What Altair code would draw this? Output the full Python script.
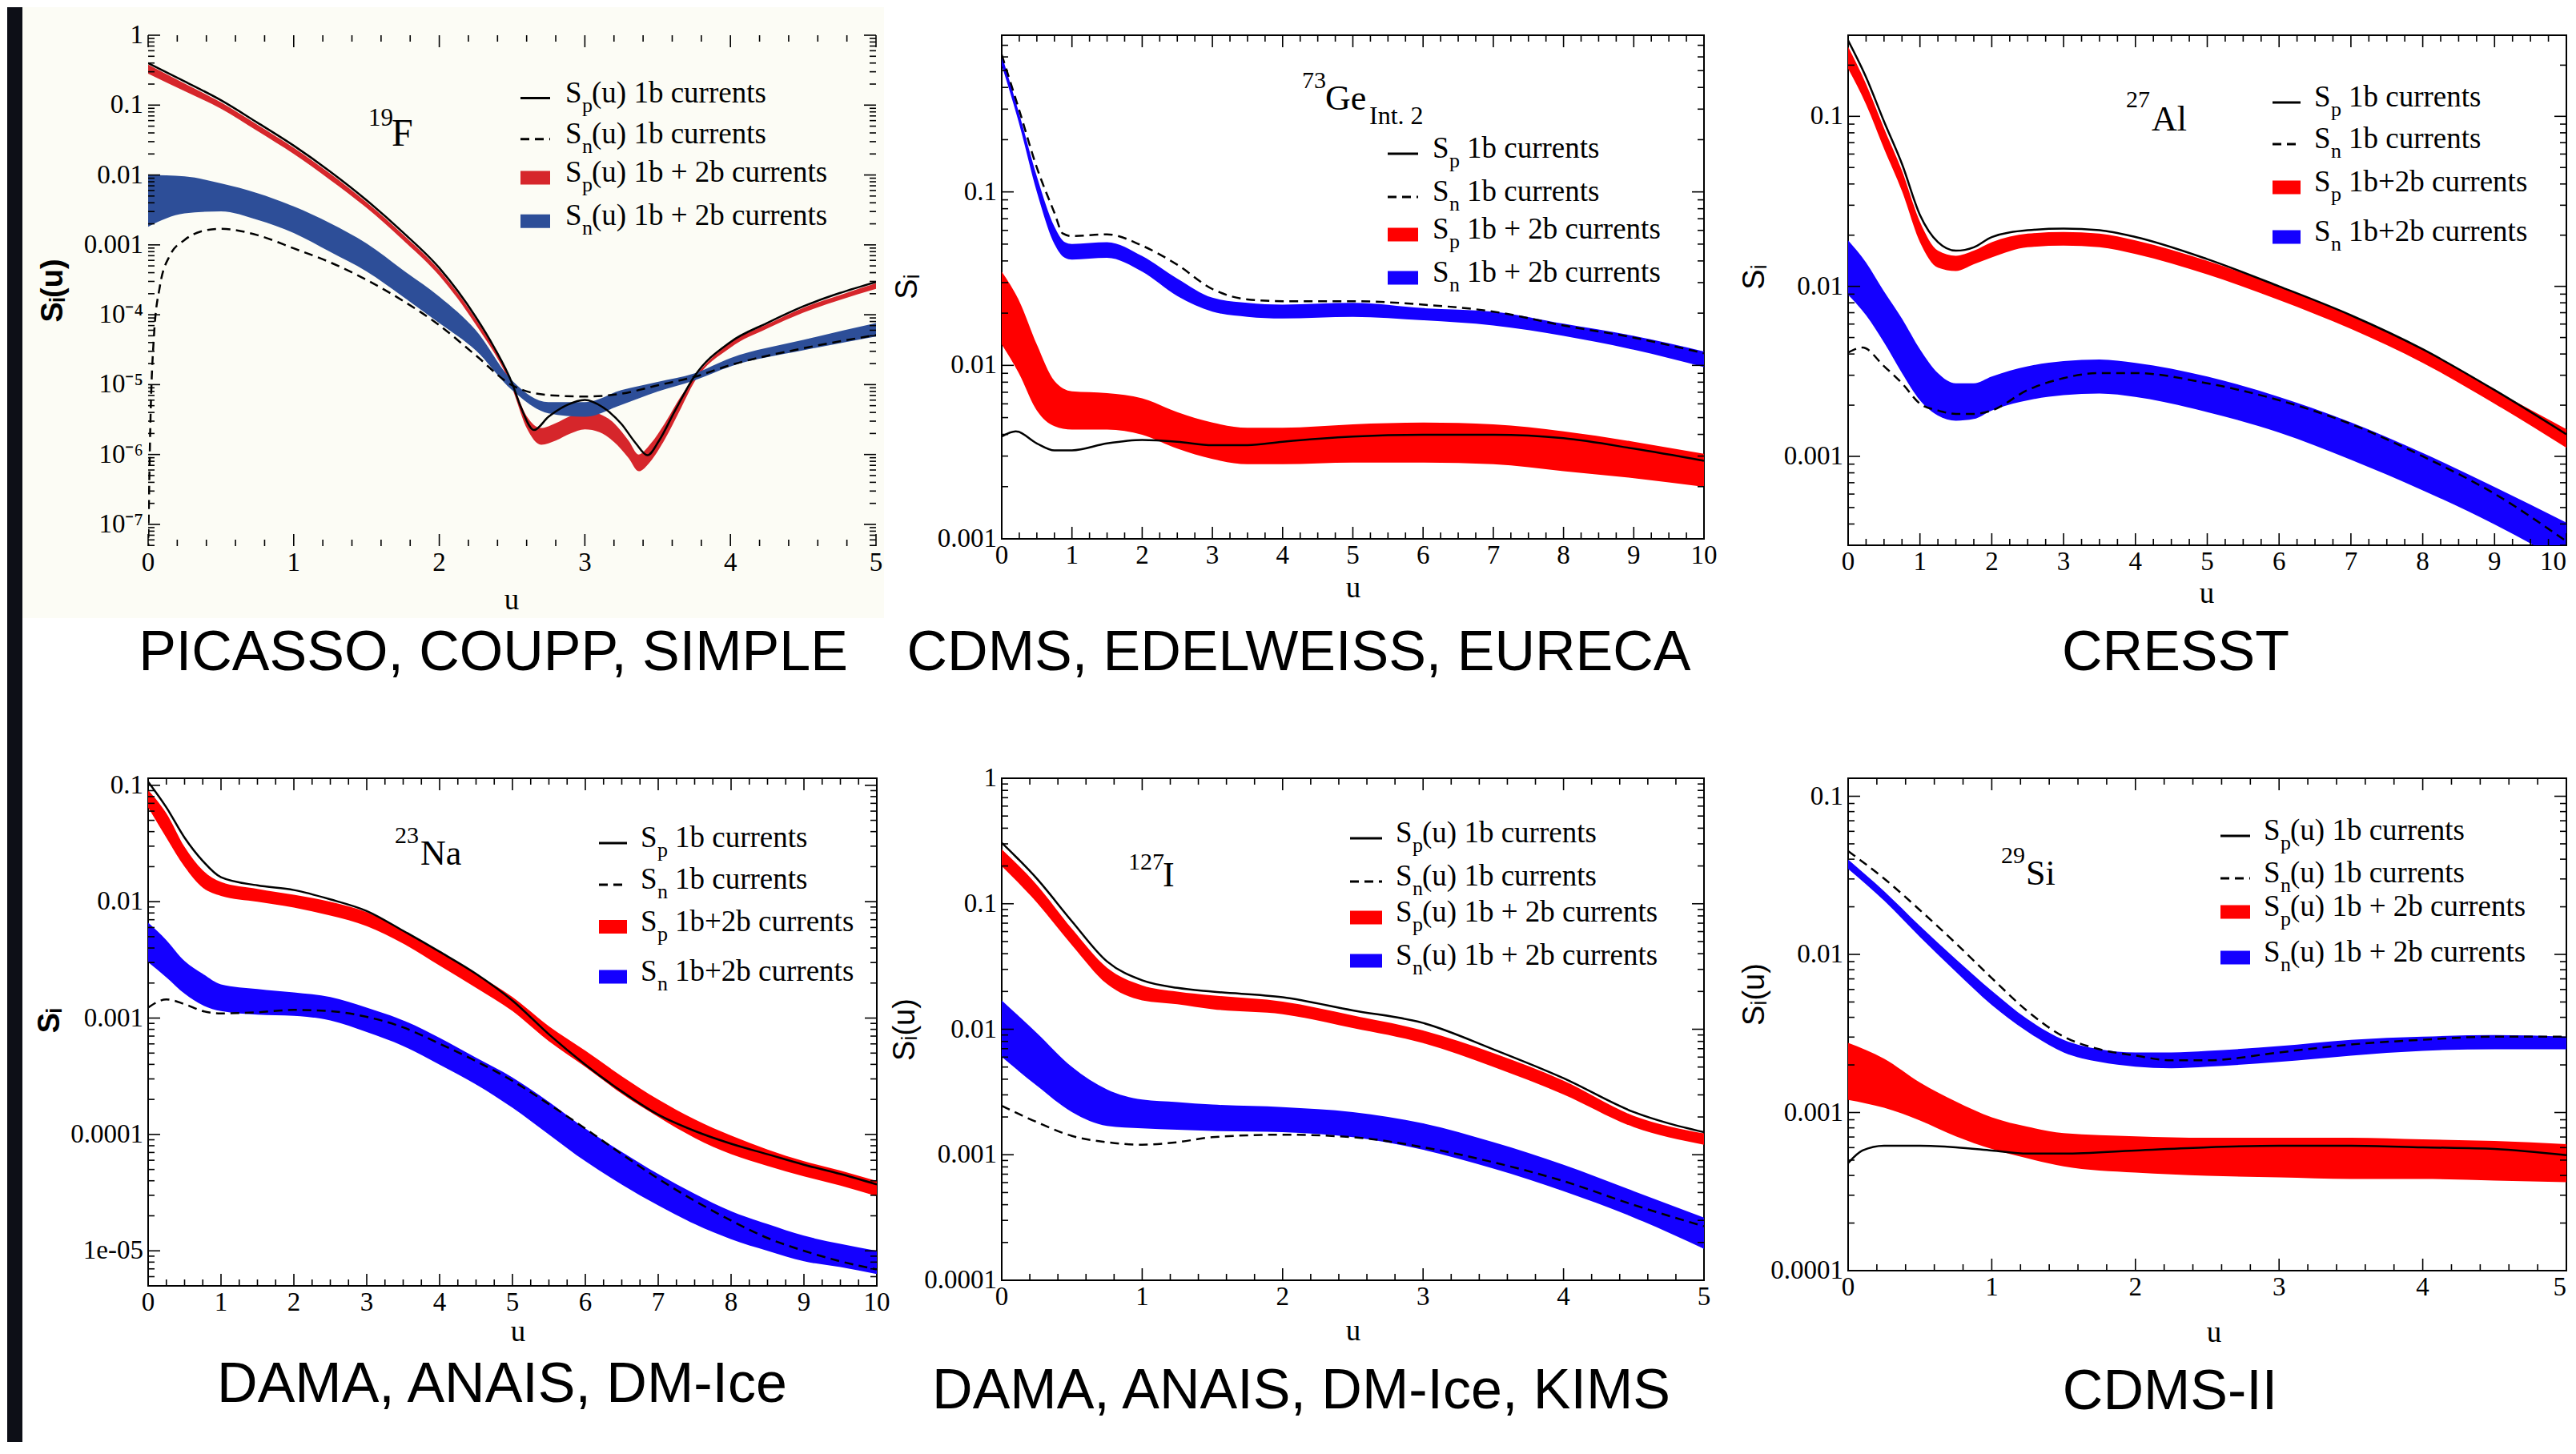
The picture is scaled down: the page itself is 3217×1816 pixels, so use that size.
import json
import altair as alt
import numpy as np
import pandas as pd

# ------------------------------------------------------------------
# Data.  Every S value below is given as log10(S).
# ------------------------------------------------------------------
# 19F  (PICASSO, COUPP, SIMPLE)
F19_SP1B_U = [0, 0.25, 0.5, 0.75, 1.0, 1.25, 1.5, 1.75, 2.0, 2.25, 2.375, 2.5, 2.56, 2.65, 2.75, 2.88, 3.0,
              3.12, 3.25, 3.35, 3.43, 3.51, 3.62, 3.75, 4.0, 4.25, 4.5, 4.75, 5.0]
F19_SP1B = [-0.40, -0.66, -0.93, -1.25, -1.58, -1.95, -2.36, -2.82, -3.33, -4.03, -4.46, -4.98, -5.32, -5.65,
            -5.46, -5.29, -5.22, -5.32, -5.56, -5.84, -6.01, -5.80, -5.37, -4.89, -4.39, -4.12, -3.88, -3.69, -3.53]
F19_SN1B_U = [0, 0.015, 0.04, 0.08, 0.15, 0.25, 0.36, 0.5, 0.75, 1.0, 1.25, 1.5, 1.75, 2.0, 2.25, 2.5, 2.75,
              3.0, 3.25, 3.5, 3.75, 4.0, 4.5, 5.0]
F19_SN1B = [-7.4, -5.6, -4.3, -3.6, -3.15, -2.93, -2.81, -2.77, -2.86, -3.05, -3.25, -3.50, -3.80, -4.15, -4.58,
            -5.01, -5.15, -5.17, -5.13, -5.01, -4.89, -4.72, -4.48, -4.29]
F19_SP_U = [0, 0.25, 0.5, 0.75, 1.0, 1.25, 1.5, 1.75, 2.0, 2.25, 2.5, 2.6, 2.7, 2.8, 2.9, 3.0, 3.1, 3.2, 3.3,
            3.37, 3.45, 3.55, 3.65, 3.75, 4.0, 4.25, 4.5, 4.75, 5.0]
F19_SP_HI = [-0.42, -0.69, -0.96, -1.28, -1.61, -1.98, -2.39, -2.85, -3.36, -4.06, -4.97, -5.45, -5.62, -5.55,
             -5.45, -5.38, -5.42, -5.55, -5.80, -6.00, -5.85, -5.55, -5.20, -4.90, -4.40, -4.14, -3.90, -3.72, -3.55]
F19_SP_LO = [-0.55, -0.80, -1.05, -1.37, -1.70, -2.07, -2.47, -2.93, -3.44, -4.14, -5.05, -5.62, -5.86, -5.80,
             -5.70, -5.64, -5.68, -5.82, -6.05, -6.24, -6.10, -5.78, -5.38, -4.97, -4.47, -4.20, -3.97, -3.79, -3.63]
F19_SN_U = [0, 0.25, 0.5, 0.75, 1.0, 1.25, 1.5, 1.75, 2.0, 2.25, 2.5, 2.75, 3.0, 3.25, 3.5, 3.75, 4.0, 4.5, 5.0]
F19_SN_HI = [-2.00, -2.02, -2.12, -2.26, -2.45, -2.69, -2.98, -3.36, -3.74, -4.22, -4.94, -5.25, -5.25, -5.08,
             -4.96, -4.84, -4.62, -4.36, -4.12]
F19_SN_LO = [-2.74, -2.55, -2.52, -2.64, -2.83, -3.10, -3.38, -3.74, -4.12, -4.51, -5.08, -5.41, -5.46, -5.29,
             -5.10, -4.94, -4.74, -4.51, -4.31]

# 73Ge  (CDMS, EDELWEISS, EURECA)
GE_SP1B_U = [0, 0.2, 0.5, 0.75, 1, 1.5, 2, 2.5, 3, 3.5, 4, 5, 6, 7, 8, 9, 10]
GE_SP1B = [-2.41, -2.38, -2.45, -2.49, -2.49, -2.45, -2.43, -2.44, -2.46, -2.46, -2.44, -2.41, -2.40, -2.40,
           -2.42, -2.48, -2.55]
GE_SN1B_U = [0, 0.25, 0.5, 0.75, 0.87, 1, 1.5, 2, 2.5, 3, 3.5, 4, 5, 6, 7, 8, 9, 10]
GE_SN1B = [-0.21, -0.53, -0.86, -1.12, -1.24, -1.255, -1.245, -1.31, -1.42, -1.56, -1.62, -1.63, -1.63, -1.65,
           -1.69, -1.77, -1.84, -1.93]
GE_SP_U = [0, 0.25, 0.5, 0.75, 1, 1.5, 2, 2.5, 3, 3.5, 4, 5, 6, 7, 8, 9, 10]
GE_SP_HI = [-1.46, -1.63, -1.88, -2.09, -2.15, -2.16, -2.19, -2.27, -2.33, -2.36, -2.36, -2.34, -2.33, -2.34,
            -2.38, -2.44, -2.51]
GE_SP_LO = [-1.88, -2.05, -2.26, -2.35, -2.37, -2.37, -2.40, -2.48, -2.54, -2.57, -2.57, -2.56, -2.56, -2.57,
            -2.61, -2.65, -2.70]
GE_SN_U = [0, 0.25, 0.5, 0.75, 0.9, 1, 1.5, 2, 2.5, 3, 3.5, 4, 5, 6, 7, 8, 9, 10]
GE_SN_HI = [-0.21, -0.55, -0.91, -1.20, -1.29, -1.30, -1.29, -1.37, -1.50, -1.61, -1.64, -1.65, -1.64, -1.67,
            -1.69, -1.76, -1.83, -1.92]
GE_SN_LO = [-0.27, -0.61, -1.00, -1.30, -1.38, -1.39, -1.38, -1.46, -1.60, -1.69, -1.72, -1.73, -1.72, -1.74,
            -1.77, -1.83, -1.91, -2.01]

# 27Al  (CRESST)
AL_U = [0, 0.25, 0.5, 0.75, 1, 1.25, 1.5, 1.75, 2, 2.5, 3, 3.5, 4, 5, 6, 7, 8, 9, 10]
AL_SP1B = [-0.554, -0.77, -1.03, -1.28, -1.58, -1.74, -1.79, -1.77, -1.71, -1.67, -1.66, -1.67, -1.71, -1.84,
           -2.00, -2.17, -2.37, -2.61, -2.87]
AL_SN1B_U = [0, 0.2, 0.5, 0.75, 1, 1.25, 1.5, 1.75, 2, 2.5, 3, 3.5, 4, 5, 6, 7, 8, 9, 10]
AL_SN1B = [-2.39, -2.36, -2.47, -2.57, -2.69, -2.73, -2.75, -2.75, -2.73, -2.61, -2.54, -2.51, -2.51, -2.57,
           -2.67, -2.81, -3.00, -3.22, -3.50]
AL_SP_HI = [-0.59, -0.81, -1.07, -1.32, -1.62, -1.79, -1.82, -1.79, -1.74, -1.69, -1.68, -1.69, -1.73, -1.85,
            -2.00, -2.17, -2.37, -2.61, -2.84]
AL_SP_LO = [-0.72, -0.93, -1.19, -1.44, -1.74, -1.89, -1.91, -1.87, -1.83, -1.77, -1.76, -1.77, -1.81, -1.93,
            -2.08, -2.25, -2.45, -2.69, -2.95]
AL_SN_HI = [-1.73, -1.86, -2.03, -2.19, -2.37, -2.51, -2.57, -2.57, -2.53, -2.47, -2.44, -2.43, -2.45, -2.53,
            -2.65, -2.80, -2.98, -3.18, -3.39]
AL_SN_LO = [-2.05, -2.17, -2.33, -2.51, -2.67, -2.76, -2.79, -2.78, -2.73, -2.67, -2.64, -2.63, -2.65, -2.74,
            -2.86, -3.02, -3.20, -3.40, -3.63]

# 23Na  (DAMA, ANAIS, DM-Ice)
NA_U = [0, 0.25, 0.5, 0.75, 1, 1.5, 2, 2.5, 3, 3.5, 4, 4.5, 5, 5.5, 6, 6.5, 7, 7.5, 8, 8.5, 9, 9.5, 10]
NA_SP1B = [-0.97, -1.19, -1.45, -1.65, -1.79, -1.86, -1.90, -1.98, -2.08, -2.25, -2.43, -2.62, -2.85, -3.14,
           -3.40, -3.63, -3.83, -3.97, -4.08, -4.17, -4.26, -4.34, -4.43]
NA_SN1B = [-2.91, -2.84, -2.88, -2.94, -2.96, -2.95, -2.93, -2.94, -2.99, -3.08, -3.22, -3.37, -3.54, -3.74,
           -3.95, -4.17, -4.38, -4.57, -4.74, -4.89, -5.00, -5.09, -5.16]
NA_SP_HI = [-1.04, -1.24, -1.53, -1.73, -1.83, -1.89, -1.94, -2.00, -2.09, -2.25, -2.43, -2.62, -2.82, -3.07,
            -3.28, -3.50, -3.70, -3.87, -4.01, -4.13, -4.23, -4.31, -4.40]
NA_SP_LO = [-1.19, -1.45, -1.70, -1.88, -1.95, -2.00, -2.05, -2.12, -2.21, -2.36, -2.55, -2.74, -2.94, -3.20,
            -3.42, -3.65, -3.85, -4.03, -4.17, -4.27, -4.36, -4.44, -4.53]
NA_SN_HI = [-2.18, -2.33, -2.51, -2.62, -2.71, -2.75, -2.78, -2.82, -2.91, -3.02, -3.17, -3.34, -3.51, -3.72,
            -3.95, -4.15, -4.34, -4.51, -4.66, -4.77, -4.87, -4.94, -5.00]
NA_SN_LO = [-2.52, -2.65, -2.79, -2.89, -2.94, -2.97, -2.98, -3.02, -3.12, -3.24, -3.40, -3.57, -3.77, -4.00,
            -4.23, -4.43, -4.61, -4.77, -4.90, -5.00, -5.09, -5.14, -5.20]

# 127I  (DAMA, ANAIS, DM-Ice, KIMS)
I_U = [0, 0.25, 0.5, 0.75, 1, 1.25, 1.5, 2, 2.5, 3, 3.5, 4, 4.5, 5]
I_SP1B = [-0.514, -0.80, -1.14, -1.46, -1.61, -1.67, -1.70, -1.745, -1.85, -1.95, -2.16, -2.39, -2.66, -2.82]
I_SN1B = [-2.61, -2.74, -2.85, -2.90, -2.92, -2.90, -2.86, -2.84, -2.86, -2.94, -3.06, -3.21, -3.40, -3.57]
I_SP_HI = [-0.566, -0.85, -1.20, -1.51, -1.65, -1.70, -1.73, -1.78, -1.89, -2.01, -2.19, -2.41, -2.69, -2.83]
I_SP_LO = [-0.70, -0.99, -1.33, -1.64, -1.77, -1.80, -1.84, -1.88, -1.99, -2.11, -2.30, -2.52, -2.78, -2.92]
I_SN_HI = [-1.77, -2.03, -2.30, -2.48, -2.56, -2.58, -2.60, -2.62, -2.66, -2.75, -2.90, -3.08, -3.29, -3.50]
I_SN_LO = [-2.22, -2.45, -2.66, -2.77, -2.79, -2.80, -2.81, -2.82, -2.86, -2.96, -3.11, -3.29, -3.50, -3.75]

# 29Si  (CDMS-II)
SI_SP1B_U = [0, 0.1, 0.25, 0.5, 0.75, 1, 1.25, 1.5, 2, 2.5, 3, 3.5, 4, 4.5, 5]
SI_SP1B = [-3.32, -3.24, -3.21, -3.21, -3.22, -3.24, -3.26, -3.26, -3.24, -3.22, -3.21, -3.21, -3.22, -3.23, -3.27]
SI_SN_U = [0, 0.25, 0.5, 0.75, 1, 1.25, 1.5, 1.75, 2, 2.25, 2.5, 3, 3.5, 4, 4.5, 5]
SI_SN1B = [-1.347, -1.52, -1.72, -1.93, -2.15, -2.36, -2.52, -2.60, -2.64, -2.67, -2.67, -2.62, -2.57, -2.54,
           -2.52, -2.52]
SI_SN_HI = [-1.40, -1.60, -1.82, -2.03, -2.23, -2.41, -2.54, -2.60, -2.62, -2.62, -2.61, -2.58, -2.54, -2.52,
            -2.51, -2.52]
SI_SN_LO = [-1.46, -1.66, -1.89, -2.11, -2.32, -2.49, -2.62, -2.68, -2.71, -2.72, -2.71, -2.68, -2.64, -2.61,
            -2.60, -2.60]
SI_SP_U = [0, 0.25, 0.5, 0.75, 1, 1.25, 1.5, 2, 2.5, 3, 3.5, 4, 4.5, 5]
SI_SP_HI = [-2.56, -2.66, -2.81, -2.93, -3.03, -3.09, -3.13, -3.15, -3.16, -3.16, -3.16, -3.17, -3.18, -3.20]
SI_SP_LO = [-2.92, -2.97, -3.05, -3.15, -3.23, -3.29, -3.34, -3.38, -3.40, -3.41, -3.42, -3.42, -3.43, -3.44]

# Tick labels and texts
F19_YLABELS = ["10\u207b\u2077", "10\u207b\u2076", "10\u207b\u2075", "10\u207b\u2074", "0.001", "0.01", "0.1", "1"]
GE_YLABELS = ["0.001", "0.01", "0.1"]
AL_YLABELS = ["0.001", "0.01", "0.1"]
NA_YLABELS = ["1e-05", "0.0001", "0.001", "0.01", "0.1"]
I_YLABELS = ["0.0001", "0.001", "0.01", "0.1", "1"]
SI_YLABELS = ["0.0001", "0.001", "0.01", "0.1"]
LEG_U = [("solid", "p", "(u) 1b currents"), ("dash", "n", "(u) 1b currents"),
         ("red", "p", "(u) 1b + 2b currents"), ("blue", "n", "(u) 1b + 2b currents")]
LEG_GE = [("solid", "p", "1b currents"), ("dash", "n", "1b currents"),
          ("red", "p", "1b + 2b currents"), ("blue", "n", "1b + 2b currents")]
LEG_PLAIN = [("solid", "p", "1b currents"), ("dash", "n", "1b currents"),
             ("red", "p", "1b+2b currents"), ("blue", "n", "1b+2b currents")]

# ------------------------------------------------------------------
SERIF = "Liberation Serif"
SANS = "Liberation Sans"
ONE = pd.DataFrame({"k": [0]})
RED = "#ff0000"
BLUE = "#1400ff"


def lin(vals):
    return [10.0 ** v for v in vals]


def txt(s, x, y, size, font=SERIF, align="left", baseline="alphabetic", angle=0, weight="normal"):
    return alt.Chart(ONE).mark_text(text=s, font=font, fontSize=size, align=align, baseline=baseline,
                                    color="black", angle=angle, fontWeight=weight).encode(
        x=alt.value(x), y=alt.value(y))


def rect(x0, x1, y0, y1, color):
    return alt.Chart(ONE).mark_rect(color=color).encode(
        x=alt.value(x0), x2=alt.value(x1), y=alt.value(y0), y2=alt.value(y1))


def hrule(x0, x1, y, dashed=False):
    if dashed:
        m = alt.Chart(ONE).mark_rule(color="black", strokeWidth=3, strokeDash=[11, 7])
    else:
        m = alt.Chart(ONE).mark_rule(color="black", strokeWidth=3)
    return m.encode(x=alt.value(x0), x2=alt.value(x1), y=alt.value(y))


def panel(p):
    W, H, xmax = p["W"], p["H"], p["xmax"]
    xs = alt.Scale(domain=[0, xmax], nice=False, zero=False)
    ys = alt.Scale(type="log", domain=[p["ylo"], p["yhi"]], nice=False)
    emin, labels = p["emin"], p["ylabels"]
    decades = [10.0 ** e for e in range(emin, emin + len(labels))]
    X = lambda f: alt.X(f, scale=xs, axis=None)
    Y = lambda f: alt.Y(f, scale=ys, axis=None)
    layers = list(p.get("background", []))

    red = pd.DataFrame({"u": p["sp_u"], "lo": lin(p["sp_lo"]), "hi": lin(p["sp_hi"])})
    blue = pd.DataFrame({"u": p["sn_u"], "lo": lin(p["sn_lo"]), "hi": lin(p["sn_hi"])})
    sp = pd.DataFrame({"u": p["sp1b_u"], "s": lin(p["sp1b"])})
    sn = pd.DataFrame({"u": p["sn1b_u"], "s": lin(p["sn1b"])})
    layers.append(alt.Chart(red).mark_area(color=p["red"], interpolate="monotone", clip=True).encode(
        x=X("u:Q"), y=Y("lo:Q"), y2="hi:Q"))
    layers.append(alt.Chart(blue).mark_area(color=p["blue"], interpolate="monotone", clip=True).encode(
        x=X("u:Q"), y=Y("lo:Q"), y2="hi:Q"))
    layers.append(alt.Chart(sp).mark_line(color="black", strokeWidth=2.5, interpolate="monotone",
                                          clip=True).encode(x=X("u:Q"), y=Y("s:Q")))
    layers.append(alt.Chart(sn).mark_line(color="black", strokeWidth=2.5, strokeDash=[11, 7],
                                          interpolate="monotone", clip=True).encode(x=X("u:Q"), y=Y("s:Q")))

    # inward ticks on all four sides (major + minor)
    xmaj = list(range(0, xmax + 1))
    step = p["xminor"]
    xmin_ = [round(v, 3) for v in np.arange(0, xmax + 1e-9, step) if abs(v - round(v)) > 1e-6]
    lo_e = int(np.floor(np.log10(p["ylo"])))
    hi_e = int(np.ceil(np.log10(p["yhi"])))
    ymin_ = [k * 10.0 ** e for e in range(lo_e, hi_e + 1) for k in range(2, 10)
             if p["ylo"] <= k * 10.0 ** e <= p["yhi"]]
    for vals, L in ((xmaj, 15), (xmin_, 8)):
        d = pd.DataFrame({"t": vals})
        for y0, y1 in ((H, H - L), (0, L)):
            layers.append(alt.Chart(d).mark_rule(color="black", strokeWidth=1.6).encode(
                x=X("t:Q"), y=alt.value(y0), y2=alt.value(y1)))
    for vals, L in ((decades, 15), (ymin_, 8)):
        d = pd.DataFrame({"t": vals})
        for x0, x1 in ((0, L), (W, W - L)):
            layers.append(alt.Chart(d).mark_rule(color="black", strokeWidth=1.6).encode(
                y=Y("t:Q"), x=alt.value(x0), x2=alt.value(x1)))

    # tick labels, placed through the scales
    xl = pd.DataFrame({"t": xmaj, "lab": [str(v) for v in xmaj]})
    ly = H + 5
    if p["flush"]:
        layers.append(alt.Chart(xl.iloc[:-1]).mark_text(font=SERIF, fontSize=33, align="center", baseline="top",
                                                        color="black").encode(
            x=X("t:Q"), y=alt.value(ly), text="lab:N"))
        layers.append(alt.Chart(xl.iloc[-1:]).mark_text(font=SERIF, fontSize=33, align="right", baseline="top",
                                                        color="black").encode(
            x=X("t:Q"), y=alt.value(ly), text="lab:N"))
    else:
        layers.append(alt.Chart(xl).mark_text(font=SERIF, fontSize=33, align="center", baseline="top",
                                              color="black").encode(
            x=X("t:Q"), y=alt.value(ly), text="lab:N"))
    yl = pd.DataFrame({"t": decades, "lab": labels})
    layers.append(alt.Chart(yl).mark_text(font=SERIF, fontSize=33, align="right", baseline="middle",
                                          color="black").encode(
        y=Y("t:Q"), x=alt.value(-6), text="lab:N"))

    # legend
    lx0, lx1 = p["leg_sym"]
    tx = p["leg_text"]
    for (kind, sub, rest), yy in zip(p["leg_rows"], p["leg_y"]):
        if kind == "solid":
            layers.append(hrule(lx0, lx1, yy))
        elif kind == "dash":
            layers.append(hrule(lx0, lx1, yy, dashed=True))
        elif kind == "red":
            layers.append(rect(lx0, lx1, yy - 8.5, yy + 8.5, p["red"]))
        else:
            layers.append(rect(lx0, lx1, yy - 8.5, yy + 8.5, p["blue"]))
        layers.append(txt("S", tx, yy + 5, 37))
        layers.append(txt(sub, tx + 21, yy + 17, 26))
        layers.append(txt(rest, tx + (33 if rest.startswith("(") else 43), yy + 5, 37))

    for s, x, y, size in p["nucleus"]:
        layers.append(txt(s, x, y, size))

    yt, ytx, yty, ytw = p["ytitle"]
    layers.append(txt(yt, ytx, yty, 38, font=SANS, align="center", baseline="middle", angle=270, weight=ytw))
    layers.append(txt("u", p["xtitle"][0], p["xtitle"][1], 37, align="center", baseline="middle"))
    cap, cx, cy = p["caption"]
    layers.append(txt(cap, cx, cy, 70, font=SANS, align="center", baseline="middle"))

    return alt.layer(*layers).properties(
        width=W, height=H, view=alt.ViewBackground(stroke="black", strokeWidth=2, fill=p["fill"]))


CREAM = "#fcfcf5"
P1 = dict(W=909, H=638, xmax=5, xminor=0.2, ylo=10 ** -7.31, yhi=1.0, emin=-7, ylabels=F19_YLABELS,
          flush=False, red="#d6262b", blue="#2d4e98", fill=CREAM,
          background=[rect(-157, 919, -35, 728, CREAM), rect(-176, -157, -35, 1757, "#0d0f17")],
          sp1b_u=F19_SP1B_U, sp1b=F19_SP1B, sn1b_u=F19_SN1B_U, sn1b=F19_SN1B,
          sp_u=F19_SP_U, sp_hi=F19_SP_HI, sp_lo=F19_SP_LO, sn_u=F19_SN_U, sn_hi=F19_SN_HI, sn_lo=F19_SN_LO,
          leg_sym=(465, 502), leg_text=521, leg_y=[78.5, 129.8, 177.9, 232.2], leg_rows=LEG_U,
          nucleus=[("19", 275, 113, 31), ("F", 304, 138, 48)],
          ytitle=("S\u1d62(u)", -118, 319, "bold"), xtitle=(454, 706),
          caption=("PICASSO, COUPP, SIMPLE", 431, 772))
P2 = dict(W=877, H=629, xmax=10, xminor=0.25, ylo=0.001, yhi=0.8, emin=-3, ylabels=GE_YLABELS,
          flush=False, red=RED, blue=BLUE, fill="white",
          sp1b_u=GE_SP1B_U, sp1b=GE_SP1B, sn1b_u=GE_SN1B_U, sn1b=GE_SN1B,
          sp_u=GE_SP_U, sp_hi=GE_SP_HI, sp_lo=GE_SP_LO, sn_u=GE_SN_U, sn_hi=GE_SN_HI, sn_lo=GE_SN_LO,
          leg_sym=(482, 520), leg_text=538, leg_y=[148, 202, 249, 303], leg_rows=LEG_GE,
          nucleus=[("73", 375, 66, 30), ("Ge", 404, 93, 44), ("Int. 2", 459, 111, 32)],
          ytitle=("S\u1d62", -117, 314, "normal"), xtitle=(439, 691),
          caption=("CDMS, EDELWEISS, EURECA", 371, 772))
P3 = dict(W=897, H=637, xmax=10, xminor=0.25, ylo=0.0003, yhi=0.3, emin=-3, ylabels=AL_YLABELS,
          flush=True, red=RED, blue=BLUE, fill="white",
          sp1b_u=AL_U, sp1b=AL_SP1B, sn1b_u=AL_SN1B_U, sn1b=AL_SN1B,
          sp_u=AL_U, sp_hi=AL_SP_HI, sp_lo=AL_SP_LO, sn_u=AL_U, sn_hi=AL_SN_HI, sn_lo=AL_SN_LO,
          leg_sym=(530, 565), leg_text=582, leg_y=[84, 136, 190, 252], leg_rows=LEG_PLAIN,
          nucleus=[("27", 347, 90, 30), ("Al", 379, 119, 44)],
          ytitle=("S\u1d62", -116, 302, "normal"), xtitle=(448, 698),
          caption=("CRESST", 409, 772))
P4 = dict(W=910, H=634, xmax=10, xminor=0.25, ylo=5e-6, yhi=0.115, emin=-5, ylabels=NA_YLABELS,
          flush=False, red=RED, blue=BLUE, fill="white",
          sp1b_u=NA_U, sp1b=NA_SP1B, sn1b_u=NA_U, sn1b=NA_SN1B,
          sp_u=NA_U, sp_hi=NA_SP_HI, sp_lo=NA_SP_LO, sn_u=NA_U, sn_hi=NA_SN_HI, sn_lo=NA_SN_LO,
          leg_sym=(563, 598), leg_text=615, leg_y=[81, 133, 185.5, 248], leg_rows=LEG_PLAIN,
          nucleus=[("23", 308, 81, 30), ("Na", 340, 108, 44)],
          ytitle=("S\u1d62", -122, 303, "bold"), xtitle=(462, 692),
          caption=("DAMA, ANAIS, DM-Ice", 442, 758))
P5 = dict(W=877, H=627, xmax=5, xminor=0.2, ylo=1e-4, yhi=1.0, emin=-4, ylabels=I_YLABELS,
          flush=False, red=RED, blue=BLUE, fill="white",
          sp1b_u=I_U, sp1b=I_SP1B, sn1b_u=I_U, sn1b=I_SN1B,
          sp_u=I_U, sp_hi=I_SP_HI, sp_lo=I_SP_LO, sn_u=I_U, sn_hi=I_SN_HI, sn_lo=I_SN_LO,
          leg_sym=(435, 475), leg_text=492, leg_y=[75, 129, 174, 228], leg_rows=LEG_U,
          nucleus=[("127", 158, 114, 30), ("I", 201, 135, 44)],
          ytitle=("S\u1d62(u)", -120, 314, "normal"), xtitle=(439, 691),
          caption=("DAMA, ANAIS, DM-Ice, KIMS", 374, 766))
P6 = dict(W=897, H=615, xmax=5, xminor=0.2, ylo=1e-4, yhi=0.13, emin=-4, ylabels=SI_YLABELS,
          flush=True, red=RED, blue=BLUE, fill="white",
          sp1b_u=SI_SP1B_U, sp1b=SI_SP1B, sn1b_u=SI_SN_U, sn1b=SI_SN1B,
          sp_u=SI_SP_U, sp_hi=SI_SP_HI, sp_lo=SI_SP_LO, sn_u=SI_SN_U, sn_hi=SI_SN_HI, sn_lo=SI_SN_LO,
          leg_sym=(465, 502), leg_text=519, leg_y=[72, 125, 167, 224], leg_rows=LEG_U,
          nucleus=[("29", 191, 106, 30), ("Si", 222, 133, 44)],
          ytitle=("S\u1d62(u)", -116, 270, "normal"), xtitle=(457, 693),
          caption=("CDMS-II", 402, 767))


def spacer(w):
    return alt.Chart(ONE).mark_point(opacity=0).encode(x=alt.value(0), y=alt.value(0)).properties(
        width=w, height=1, view=alt.ViewBackground(stroke="transparent"))


cells = [panel(P1), spacer(156), panel(P2), spacer(180), panel(P3),
         panel(P4), spacer(156), panel(P5), spacer(180), panel(P6)]

chart = alt.concat(*cells, columns=5, spacing={"row": 290, "column": 0}, bounds="flush",
                   align="each").properties(padding=0, background="white")

chart.save("out.html", embed_options={"renderer": "svg", "actions": False})
